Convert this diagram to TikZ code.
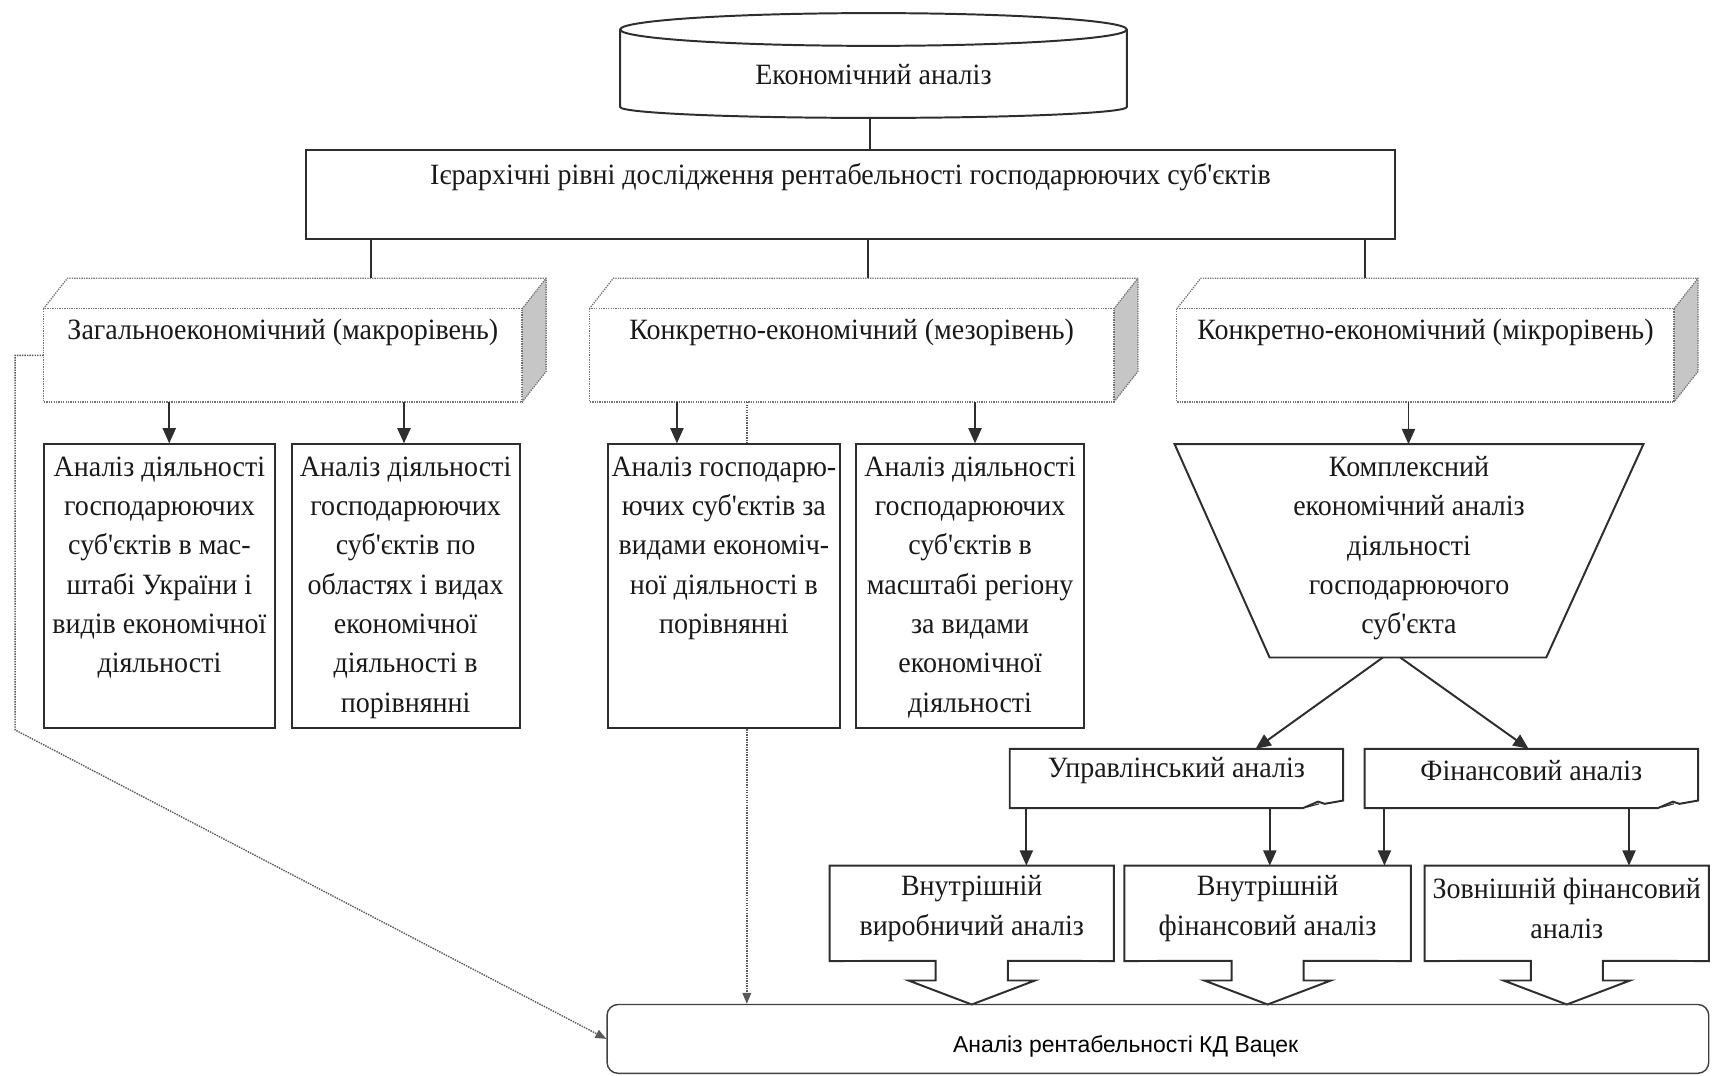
\documentclass[tikz,border=0pt]{standalone}
\usepackage{fontspec}
\setmainfont[Ligatures=TeXOff,FakeStretch=0.95]{Liberation Serif}
\newfontfamily\arialf{Liberation Sans}
\usetikzlibrary{arrows.meta,calc}
\begin{document}
\begin{tikzpicture}[x=1pt,y=-1pt,
  line/.style={draw=black!82, line width=1.8pt},
  box/.style={line, rectangle, inner sep=0pt},
  ghost/.style={rectangle, inner sep=0pt},
  txt/.style={font=\fontsize{27}{36}\selectfont, align=center, inner sep=0pt, text=black!90},
  face/.style={draw=black!55, densely dotted, line width=1.2pt},
  arr/.style={line, -{Triangle[length=14pt,width=12pt]}},
  dotline/.style={draw=black!65, densely dotted, line width=1.3pt},
  dotarr/.style={dotline, -{Triangle[length=10pt,width=8pt]}},
]
\useasboundingbox (0,0) rectangle (1568,985);

% cylinder
\draw[line, fill=white] (568,27) -- (568,98) arc[start angle=180, end angle=0, x radius=232, y radius=10] -- (1032,27);
\draw[line] (800,27) ellipse [x radius=232, y radius=15];
\node[txt] (econ) at (800,68) {Економічний аналіз};
\coordinate (cylb) at (797,108);

% hierarchy box
\node[box, minimum width=998, minimum height=82] (hier) at (779,178) {};
\node[txt] (hiertxt) at (779,162) {Ієрархічні рівні дослідження рентабельності господарюючих суб'єктів};
\draw[line] (cylb) -- (cylb |- hier.north);

% 3D boxes
\newcommand\tdbox[4]{%
  \node[ghost, minimum width=#3, minimum height=85] (#1) at (#2,325.5) {};
  \fill[gray!45] (#1.north east) -- ++(22,-28) -- ($(#1.south east)+(22,-28)$) -- (#1.south east) -- cycle;
  \draw[face] (#1.north west) rectangle (#1.south east);
  \draw[face] (#1.north west) -- ++(22,-28) -- ($(#1.north east)+(22,-28)$) -- ($(#1.south east)+(22,-28)$) -- (#1.south east);
  \draw[face] (#1.north east) -- ++(22,-28);
  \node[txt] (#1txt) at (#2,304) {#4};
}
\tdbox{macro}{259}{438}{Загальноекономічний (макрорівень)}
\tdbox{mezo}{780}{480}{Конкретно-економічний (мезорівень)}
\tdbox{micro}{1305.5}{455}{Конкретно-економічний (мікрорівень)}

\draw[line] (340,0 |- hier.south) -- (340,255);
\draw[line] (795,0 |- hier.south) -- (795,255);
\draw[line] (1250,0 |- hier.south) -- (1250,255);

% second row boxes
\node[box, minimum width=212, minimum height=260] (a1) at (146,537) {};
\node[box, minimum width=209, minimum height=260] (a2) at (371.5,537) {};
\node[box, minimum width=212, minimum height=260] (b1) at (663,537) {};
\node[box, minimum width=209, minimum height=260] (b2) at (888.5,537) {};
\node[txt, anchor=north] at ($(a1.north)+(0,12)$) {Аналіз діяльності\\господарюючих\\суб'єктів в мас-\\штабі України і\\видів економічної\\діяльності};
\node[txt, anchor=north] at ($(a2.north)+(0,12)$) {Аналіз діяльності\\господарюючих\\суб'єктів по\\областях і видах\\економічної\\діяльності в\\порівнянні};
\node[txt, anchor=north] at ($(b1.north)+(0,12)$) {Аналіз господарю-\\ючих суб'єктів за\\видами економіч-\\ної діяльності в\\порівнянні};
\node[txt, anchor=north] at ($(b2.north)+(0,12)$) {Аналіз діяльності\\господарюючих\\суб'єктів в\\масштабі регіону\\за видами\\економічної\\діяльності};

\draw[arr] (155,0 |- macro.south) -- (155,0 |- a1.north);
\draw[arr] (370,0 |- macro.south) -- (370,0 |- a2.north);
\draw[arr] (620,0 |- mezo.south) -- (620,0 |- b1.north);
\draw[arr] (893,0 |- mezo.south) -- (893,0 |- b2.north);

% trapezoid
\node[ghost, minimum width=429, minimum height=195] (trap) at (1290.5,504.5) {};
\draw[line] (trap.north west) -- (trap.north east) -- ($(trap.south east)+(-89,0)$) -- ($(trap.south west)+(87,0)$) -- cycle;
\node[txt, anchor=north] at ($(trap.north)+(0,11)$) {Комплексний\\економічний аналіз\\діяльності\\господарюючого\\суб'єкта};
\draw[arr] (1290,0 |- micro.south) -- (1290,0 |- trap.north);

% document boxes
\newcommand\docbox[3]{%
  \node[ghost, minimum width=305, minimum height=54] (#1) at (#2,713) {};
  \draw[line] (#1.south west) -- (#1.north west) -- (#1.north east) -- ($(#1.south east)+(0,-7)$)
     -- ($(#1.south east)+(-17,-4)$) -- ($(#1.south east)+(-23,-6)$) -- ($(#1.south east)+(-37,0)$) -- cycle;
  \draw[line, line width=1pt] ($(#1.south east)+(-33,-1)$) -- ($(#1.south east)+(-22,-4)$);
  \node[txt] (#1txt) at (#2,706) {#3};
}
\docbox{upr}{1077.5}{Управлінський аналіз}
\docbox{fina}{1402.5}{Фінансовий аналіз}

\draw[arr] ($(trap.south)+(-24,0)$) -- (1150,0 |- upr.north);
\draw[arr] ($(trap.south)+(-8,0)$) -- (1400,0 |- fina.north);

% bottom row with callouts
\newcommand\callbox[4]{% name, cx, width, text
  \node[ghost, minimum width=#3, minimum height=87] (#1) at (#2,836.5) {};
  \draw[line] (#1.south west) -- (#1.north west) -- (#1.north east) -- (#1.south east)
    -- ($(#2,880)+(33,0)$) -- ($(#2,880)+(33,18)$) -- ($(#2,880)+(58,18)$) -- (#2,920)
    -- ($(#2,880)+(-58,18)$) -- ($(#2,880)+(-33,18)$) -- ($(#2,880)+(-33,0)$) -- cycle;
  \node[txt] (#1txt) at (#2,832) {#4};
}
\callbox{d1}{890}{260}{Внутрішній\\виробничий аналіз}
\callbox{d2}{1161}{262}{Внутрішній\\фінансовий аналіз}
\callbox{d3}{1435}{260}{Зовнішній фінансовий\\аналіз}

\draw[arr] (940,0 |- upr.south) -- (940,0 |- d1.north);
\draw[arr] (1163,0 |- upr.south) -- (1163,0 |- d2.north);
\draw[arr] (1268,0 |- fina.south) -- (1268,0 |- d2.north);
\draw[arr] (1492,0 |- fina.south) -- (1492,0 |- d3.north);

% final box
\node[draw=black!75, line width=1.3pt, rounded corners=10, minimum width=1009, minimum height=63, inner sep=0pt] (fin) at (1060.5,951.5) {};
\node[font=\arialf\fontsize{21}{24}\selectfont, inner sep=0pt] (fintxt) at (1031,958) {Аналіз рентабельності КД Вацек};

% dotted connectors
\draw[dotline] (684,0 |- mezo.south) -- (684,0 |- b1.north);
\draw[dotarr] (684,0 |- b1.south) -- (684,0 |- fin.north);
\draw[dotarr] (macro.west) -- ++(-26,0) -- ++(0,343) -- (fin.west);
\end{tikzpicture}
\end{document}
